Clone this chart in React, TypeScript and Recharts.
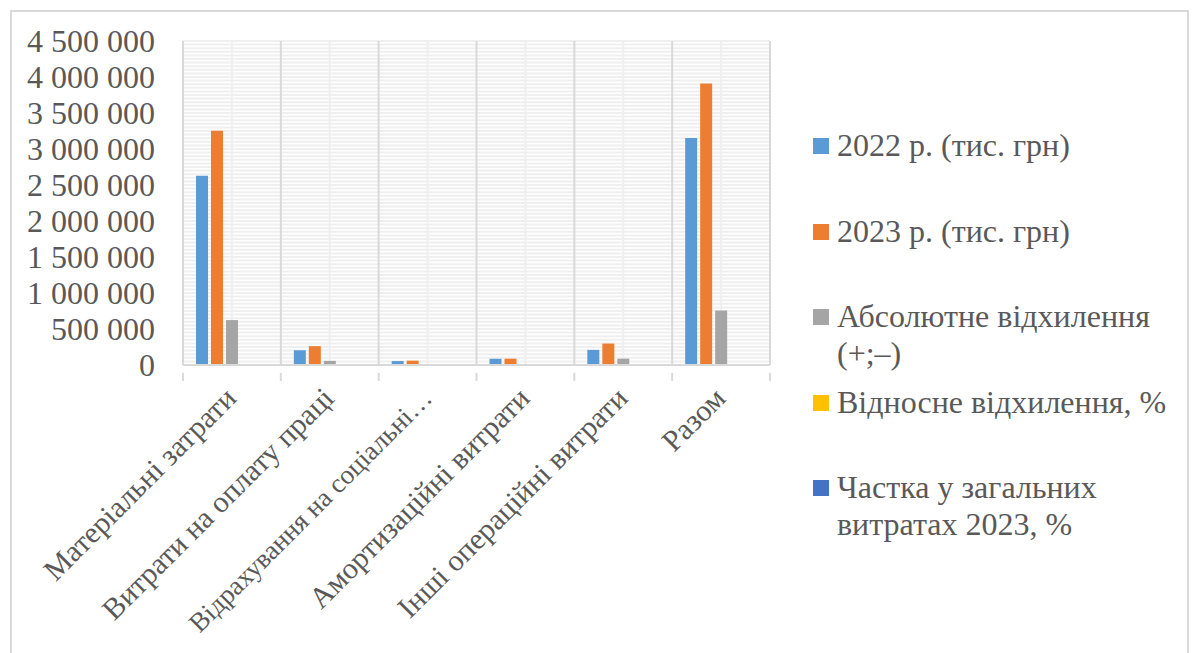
import { Bar, BarChart, CartesianGrid, XAxis, YAxis } from "recharts";

const categories = [
  "Матеріальні затрати",
  "Витрати на оплату праці",
  "Відрахування на соціальні заходи",
  "Амортизаційні витрати",
  "Інші операційні витрати",
  "Разом",
];

const values2022 = [2630000, 205000, 55000, 87000, 210000, 3153000];
const values2023 = [3254000, 262000, 60000, 88000, 298000, 3909000];
const absDeviation = [624000, 57000, 5000, 1000, 88000, 756000];
const relDeviation = [23.7, 27.8, 9.1, 1.1, 41.9, 24.0];
const share2023 = [83.2, 6.7, 1.5, 2.3, 7.6, 100];

const yTicks = [0, 500000, 1000000, 1500000, 2000000, 2500000, 3000000, 3500000, 4000000, 4500000];
const Y_MAX = 4500000;
const MINOR_STEP = 50000;

const series = [
  { key: "y2022", name: "2022 р. (тис. грн)", color: "#5b9bd5" },
  { key: "y2023", name: "2023 р. (тис. грн)", color: "#ed7d31" },
  { key: "abs", name: "Абсолютне відхилення (+;–)", color: "#a5a5a5" },
  { key: "rel", name: "Відносне відхилення, %", color: "#ffc000" },
  { key: "share", name: "Частка у загальних витратах 2023, %", color: "#4472c4" },
];

const data = categories.map((c, i) => ({
  name: c,
  y2022: values2022[i],
  y2023: values2023[i],
  abs: absDeviation[i],
  rel: relDeviation[i],
  share: share2023[i],
}));

const W = 1193;
const H = 653;
const MARGIN = { top: 41, right: 423, left: 0, bottom: 0 };
const Y_AXIS_W = 183;
const X_AXIS_H = H - 365;
const PLOT_W = W - MARGIN.right - Y_AXIS_W;
const BAND = PLOT_W / categories.length;

const FONT = "'Liberation Serif', 'DejaVu Serif', serif";
const TEXT = "#595959";
const GRID_LIGHT = "#efefef";
const GRID_DARK = "#d9d9d9";

const MAX_LABEL = 25;
const fmt = (v: number) => String(v).replace(/\B(?=(\d{3})+(?!\d))/g, " ");

function XTick(props: any) {
  const { x, y, payload, index } = props;
  const half = BAND / 2;
  const full: string = payload.value;
  const cut = full.length > MAX_LABEL;
  const label = cut ? full.slice(0, MAX_LABEL) + "…" : full;
  return (
    <g>
      <line x1={x - half} x2={x - half} y1={y} y2={y + 8} stroke={GRID_DARK} strokeWidth={2} />
      {index === categories.length - 1 && (
        <line x1={x + half} x2={x + half} y1={y} y2={y + 8} stroke={GRID_DARK} strokeWidth={2} />
      )}
      <g transform={`translate(${x + 6},${y + 27})`}>
        <text
          transform="rotate(-45)"
          textAnchor="end"
          fill={TEXT}
          fontSize={cut ? 27 : 30}
          style={{ fontFamily: FONT }}
        >
          {label}
        </text>
      </g>
    </g>
  );
}

function LegendBox() {
  return (
    <div
      style={{
        position: "absolute",
        left: 813,
        top: 127,
        width: 375,
        fontFamily: FONT,
        fontSize: 32,
        color: TEXT,
      }}
    >
      {series.map((s) => (
        <div key={s.key} style={{ display: "flex", alignItems: "flex-start", height: 85.5 }}>
          <span
            style={{
              display: "inline-block",
              width: 16,
              height: 16,
              background: s.color,
              marginTop: 11,
              marginRight: 8,
              flex: "none",
            }}
          />
          <span style={{ width: 340, lineHeight: "37px" }}>{s.name}</span>
        </div>
      ))}
    </div>
  );
}

export default function App() {
  const minorValues: number[] = [];
  for (let v = 0; v <= Y_MAX; v += MINOR_STEP) minorValues.push(v);

  return (
    <div
      style={{
        position: "absolute",
        left: 0,
        top: 0,
        width: W,
        height: H,
        overflow: "hidden",
        background: "#fff",
      }}
    >
      <div
        style={{
          position: "absolute",
          left: 10,
          top: 10,
          width: 1179,
          height: 700,
          border: `2px solid ${GRID_DARK}`,
          boxSizing: "border-box",
        }}
      />
      <div style={{ position: "absolute", left: 0, top: 0 }}>
        <BarChart width={W} height={H} data={data} margin={MARGIN} barSize={12} barGap={3}>
          <CartesianGrid
            stroke={GRID_LIGHT}
            strokeWidth={2}
            horizontalCoordinatesGenerator={({ offset }: any) =>
              minorValues.map((v) => offset.top + offset.height * (1 - v / Y_MAX))
            }
            verticalCoordinatesGenerator={({ offset }: any) =>
              categories.map((_, i) => offset.left + BAND * (i + 0.5))
            }
          />
          <CartesianGrid
            stroke={GRID_DARK}
            strokeWidth={2}
            horizontal={false}
            verticalCoordinatesGenerator={({ offset }: any) =>
              [0, ...categories.map((_, i) => i + 1)].map((i) => offset.left + BAND * i)
            }
          />
          <XAxis
            dataKey="name"
            height={X_AXIS_H}
            interval={0}
            tick={<XTick />}
            tickLine={false}
            axisLine={{ stroke: GRID_DARK, strokeWidth: 2 }}
          />
          <YAxis
            width={Y_AXIS_W}
            domain={[0, Y_MAX]}
            ticks={yTicks}
            interval={0}
            tickFormatter={fmt}
            axisLine={false}
            tickLine={false}
            tickSize={0}
            tickMargin={28}
            tick={{ fill: TEXT, fontSize: 32, style: { fontFamily: FONT } }}
          />
          {series.map((s) => (
            <Bar key={s.key} dataKey={s.key} name={s.name} fill={s.color} isAnimationActive={false} />
          ))}
        </BarChart>
      </div>
      <LegendBox />
    </div>
  );
}
